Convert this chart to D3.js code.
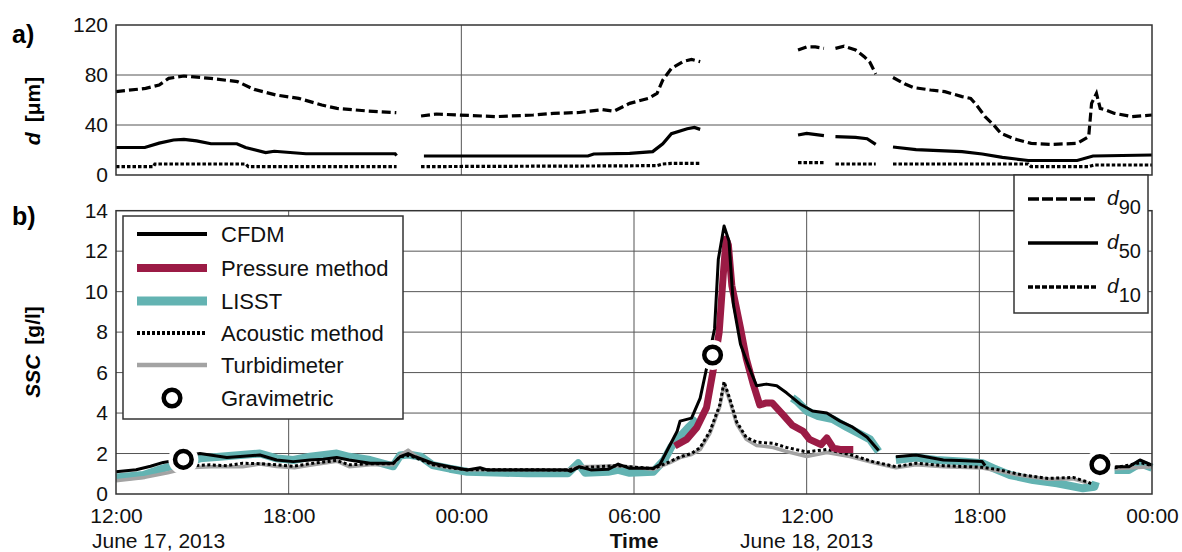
<!DOCTYPE html>
<html>
<head>
<meta charset="utf-8">
<script src="https://cdn.jsdelivr.net/npm/d3@7"></script>
<style>
  body { margin: 0; background: #fff; }
  svg { font-family: "Liberation Sans", Arial, sans-serif; }
</style>
</head>
<body>
<div id="chart"></div>
<script>
// time in hours after 12:00, June 17 2013; null = gap in record

// panel a) grain size [um]
const d90 = [[0,66.7],[1.03,69.3],[1.5,72],[1.83,77.3],[2.36,79.2],[3.29,77.3],[4.22,74.7],[4.8,68.5],[5.55,64],[6.35,61.3],[7.15,56],[7.68,53.3],[8.75,51.2],[9.74,49.9],null,
  [10.6,47.2],[11.13,48.8],[11.9,48],[13.2,46.7],[14.5,48],[15.2,49.3],[16.1,50],[16.9,52.3],[17.3,51],[17.85,57.3],[18.5,61.3],[18.8,65.3],[19.0,76],[19.3,85.3],[19.7,90.7],[20.0,92.5],[20.3,90.7],null,
  [23.7,100],[24.0,102.5],[24.3,102.5],[24.6,101.3],null,
  [25.0,101.3],[25.3,103],[25.7,100],[26.0,94.7],[26.2,90],[26.4,80.8],null,
  [27.0,78],[27.4,73],[27.7,70],[28.3,68],[28.8,66.7],[29.4,62.7],[29.7,61.3],[29.9,56],[30.2,46.7],[30.5,40],[30.75,33.3],[31.2,29],[31.8,25.3],[32.5,24.5],[33.4,25.3],[33.8,30.7],[33.9,57.3],[34.07,65.3],[34.2,53.3],[34.4,52],[34.7,49.3],[35.3,46.7],[36,48]];

const d50 = [[0,22],[1.0,22],[1.5,25.5],[2.0,28],[2.36,28.5],[2.8,27.3],[3.3,25],[4.2,25],[4.5,22],[5.2,18],[5.5,19],[6.6,17],[9.7,17],[9.75,15.5],null,
  [10.7,15.2],[16.4,15.2],[16.6,16.8],[17.85,17.3],[18.65,18.7],[19.0,25],[19.3,33],[19.85,37],[20.1,38],[20.3,36.5],null,
  [23.7,32],[24.0,33.3],[24.6,31.5],null,
  [25.0,30.7],[25.7,30.1],[26.1,29],[26.4,24.5],null,
  [27.0,22.4],[27.8,20.3],[29.4,18.7],[30.1,16.8],[30.8,14.1],[31.7,11.6],[33.4,11.6],[33.95,15.2],[36,16]];

const d10 = [[0,6.7],[1.3,6.7],[1.35,8.8],[4.5,8.8],[4.6,6.7],[9.75,6.7],null,
  [10.6,6.7],[16.5,7.2],[18.8,7.5],[19.0,8.8],[19.3,9.3],[20.3,9.3],null,
  [23.7,9.9],[24.6,9.9],null,
  [25.0,8.8],[26.4,8.8],null,
  [27.0,8.8],[31.7,8.8],[31.8,6.7],[33.8,6.7],[34.0,8],[36,8]];

// panel b) suspended sediment concentration [g/l]
const lisst = [[0,0.82],[0.95,0.94],[1.64,1.27],[2.3,1.5],[2.92,1.76],[3.6,1.84],[5.0,2.0],[5.58,1.76],[6.16,1.68],[6.74,1.84],[7.67,2.0],[8.1,1.84],[8.83,1.68],[9.63,1.37],[9.87,1.9],[10.15,1.95],[10.6,1.84],[11.0,1.43],[11.6,1.25],[12.2,1.1],[13.5,1.05],[14.3,1.02],[15.7,1.02],[16.06,1.52],[16.3,1.05],[17.1,1.1],[17.45,1.19],[17.85,1.05],[18.67,1.1],[19.05,1.68],[19.3,2.34],[19.6,2.83],[19.9,3.3],[20.2,3.7],null,
  [23.5,4.75],[23.65,4.6],[24.0,4.1],[24.4,3.85],[24.9,3.7],[25.4,3.3],[25.8,3.0],[26.2,2.7],[26.5,2.1],null,
  [27.1,1.68],[27.8,1.8],[28.5,1.68],[29.5,1.6],[30.1,1.52],[30.5,1.27],[31.06,0.94],[31.87,0.69],[32.7,0.53],[33.6,0.28],[34.0,0.36],[34.05,0.6],null,
  [34.7,1.19],[35.2,1.19],[35.58,1.52],[36,1.3]];

const turbidimeter = [[0,0.66],[1.0,0.82],[1.8,1.05],[2.5,1.3],[3.3,1.35],[4.4,1.35],[5.0,1.48],[5.58,1.36],[6.2,1.3],[6.74,1.42],[7.67,1.62],[8.1,1.35],[8.83,1.45],[9.63,1.45],[9.87,1.9],[10.15,2.17],[10.4,1.9],[11.0,1.45],[11.6,1.3],[12.2,1.2],[15.7,1.2],[16.1,1.35],[17.45,1.4],[18.67,1.22],[19.25,1.55],[19.6,1.8],[20.0,1.95],[20.3,2.2],[20.64,3.0],[20.98,4.3],[21.13,5.4],[21.33,4.6],[21.57,3.45],[21.9,2.7],[22.26,2.4],[22.84,2.3],[23.3,2.1],[24.0,1.85],[24.7,2.05],[25.5,1.85],[26.3,1.55],[27.1,1.3],[27.8,1.45],[28.75,1.35],[30.1,1.28],[30.7,1.12],[31.5,0.9],[32.4,0.73],[33.26,0.75],[33.75,0.55],null,
  [34.7,1.25],[36,1.35]];

const acoustic = [[2.6,1.4],[3.27,1.44],[3.85,1.4],[4.4,1.52],[5.0,1.5],[5.58,1.44],[6.16,1.37],[6.74,1.5],[7.67,1.66],[8.1,1.44],[8.83,1.5],[9.63,1.5],[9.87,1.84],[10.15,1.9],[10.4,1.8],[11.0,1.45],[11.6,1.3],[12.2,1.2],[15.7,1.19],[16.1,1.3],[17.45,1.4],[18.67,1.25],[19.25,1.6],[19.6,1.84],[20.0,2.0],[20.3,2.3],[20.64,3.1],[20.98,4.4],[21.13,5.55],[21.33,4.7],[21.57,3.56],[21.9,2.8],[22.26,2.57],[22.84,2.5],[23.3,2.3],[24.0,2.08],[24.7,2.2],[25.5,1.95],[26.3,1.6],[27.1,1.35],[27.8,1.52],[28.75,1.4],[30.1,1.32],[30.7,1.19],[31.5,0.94],[32.4,0.77],[33.26,0.82],[33.75,0.6],[33.9,0.5],null,
  [34.7,1.3],[35.2,1.43],[35.6,1.55],[36,1.4]];

const pressure = [[19.42,2.37],[19.83,2.7],[20.18,3.28],[20.52,4.27],[20.75,6.1],[20.96,8.0],[21.1,10.8],[21.2,12.6],[21.28,12.3],[21.4,10.3],[21.7,8.2],[21.9,6.7],[22.15,5.4],[22.37,4.4],[22.6,4.5],[22.8,4.5],[23.19,3.9],[23.5,3.4],[23.88,3.1],[24.1,2.7],[24.5,2.44],[24.7,2.77],[24.93,2.27],[25.16,2.2],[25.62,2.2]];

const cfdm = [[0,1.1],[0.7,1.2],[1.2,1.37],[1.64,1.56],[2.0,1.65],[2.7,1.95],[2.92,2.0],[3.27,1.93],[3.85,1.8],[4.43,1.87],[5.0,1.93],[5.58,1.68],[6.16,1.6],[6.74,1.68],[7.2,1.72],[7.67,1.8],[8.1,1.68],[8.83,1.52],[9.63,1.52],[9.87,1.84],[10.15,2.0],[10.4,1.84],[11.0,1.52],[11.6,1.35],[12.2,1.19],[12.65,1.3],[12.9,1.19],[14.0,1.19],[15.66,1.19],[15.8,1.12],[16.1,1.35],[16.5,1.19],[17.1,1.22],[17.45,1.48],[17.85,1.27],[18.67,1.27],[18.9,1.46],[19.08,1.95],[19.5,3.1],[19.6,3.6],[20.0,3.75],[20.3,4.74],[20.52,6.2],[20.8,8.17],[20.93,11.6],[21.13,13.24],[21.3,12.5],[21.45,9.4],[21.7,7.4],[22.0,6.25],[22.26,5.35],[22.6,5.43],[22.96,5.35],[23.3,5.0],[23.77,4.45],[24.2,4.1],[24.7,4.0],[25.16,3.6],[25.6,3.3],[26.1,2.8],[26.5,2.15],null,
  [27.1,1.84],[27.8,1.93],[28.75,1.68],[29.3,1.65],[30.1,1.6],[30.2,1.4],null,
  [34.6,1.3],[34.77,1.35],[35.2,1.35],[35.58,1.68],[36,1.43]];

const gravimetric = [[2.34,1.71],[20.73,6.87],[34.19,1.45]];

const topTicks = [0, 40, 80, 120];
const bottomTicks = [0, 2, 4, 6, 8, 10, 12, 14];

const start = new Date(2013, 5, 17, 12);
const end = new Date(2013, 5, 19, 0);
const at = h => new Date(+start + h * 36e5);

const W = 1182, H = 552;
const svg = d3.select("#chart").append("svg")
    .attr("width", W)
    .attr("height", H);

var x = d3.scaleTime().domain([start, end]).range([116, 1152]);
var yTop = d3.scaleLinear().domain([0, 120]).range([175, 25]);
var yBot = d3.scaleLinear().domain([0, 14]).range([494, 210.7]);

const gridColor = "#555";

// ---- panel a) ----
var ga = svg.append("g");
ga.selectAll(".hgrid").data([40, 80]).enter().append("line")
    .attr("x1", 116).attr("x2", 1152)
    .attr("y1", d => yTop(d)).attr("y2", d => yTop(d))
    .style("stroke", gridColor).style("stroke-width", 1);
ga.append("line")
    .attr("x1", x(at(12))).attr("x2", x(at(12)))
    .attr("y1", 25).attr("y2", 175)
    .style("stroke", gridColor).style("stroke-width", 1);

function lineFor(yScale) {
    return d3.line()
        .defined(d => d != null)
        .x(d => x(at(d[0])))
        .y(d => yScale(d[1]));
}

var lineTop = lineFor(yTop);
ga.append("path").datum(d90).attr("d", lineTop)
    .style("fill", "none").style("stroke", "#000").style("stroke-width", 3.2)
    .style("stroke-dasharray", "9,4");
ga.append("path").datum(d50).attr("d", lineTop)
    .style("fill", "none").style("stroke", "#000").style("stroke-width", 3.2);
ga.append("path").datum(d10).attr("d", lineTop)
    .style("fill", "none").style("stroke", "#000").style("stroke-width", 3.2)
    .style("stroke-dasharray", "3.5,2");

ga.append("rect").attr("x", 116).attr("y", 25).attr("width", 1036).attr("height", 150)
    .style("fill", "none").style("stroke", "#333").style("stroke-width", 1.5);

ga.append("g")
    .attr("transform", "translate(116,0)")
    .call(d3.axisLeft(yTop).tickValues(topTicks).tickSize(0).tickPadding(8))
    .call(g => g.select(".domain").remove())
    .selectAll("text").style("font-size", "21px").style("fill", "#111")
    .style("font-family", "Liberation Sans, Arial, sans-serif");

// ---- panel b) ----
var gb = svg.append("g");
gb.selectAll(".hgrid").data(bottomTicks.slice(1, -1)).enter().append("line")
    .attr("x1", 116).attr("x2", 1152)
    .attr("y1", d => yBot(d)).attr("y2", d => yBot(d))
    .style("stroke", gridColor).style("stroke-width", 1);
var sixHours = x.ticks(d3.timeHour.every(6));
gb.selectAll(".vgrid").data(sixHours.slice(1, -1)).enter().append("line")
    .attr("x1", d => x(d)).attr("x2", d => x(d))
    .attr("y1", 210.7).attr("y2", 494)
    .style("stroke", gridColor).style("stroke-width", 1);

var lineBot = lineFor(yBot);
const series = [
    {data: lisst, color: "#63b3b2", width: 8, dash: null},
    {data: turbidimeter, color: "#a3a3a3", width: 3.5, dash: null},
    {data: acoustic, color: "#000", width: 3, dash: "3,2.5"},
    {data: pressure, color: "#9b1b45", width: 7, dash: null},
    {data: cfdm, color: "#000", width: 3, dash: null}
];
series.forEach(function (s) {
    gb.append("path").datum(s.data).attr("d", lineBot)
        .style("fill", "none")
        .style("stroke", s.color)
        .style("stroke-width", s.width)
        .style("stroke-linejoin", "round")
        .style("stroke-dasharray", s.dash);
});

var grav = gb.selectAll(".grav").data(gravimetric).enter().append("g")
    .attr("transform", d => "translate(" + x(at(d[0])) + "," + yBot(d[1]) + ")");
grav.append("circle").attr("r", 15).style("fill", "#fff");
grav.append("circle").attr("r", 8.3).style("fill", "#fff")
    .style("stroke", "#000").style("stroke-width", 4.5);

gb.append("rect").attr("x", 116).attr("y", 210.7).attr("width", 1036).attr("height", 283.3)
    .style("fill", "none").style("stroke", "#333").style("stroke-width", 1.5);

gb.append("g")
    .attr("transform", "translate(116,0)")
    .call(d3.axisLeft(yBot).tickValues(bottomTicks).tickSize(0).tickPadding(8))
    .call(g => g.select(".domain").remove())
    .selectAll("text").style("font-size", "21px").style("fill", "#111")
    .style("font-family", "Liberation Sans, Arial, sans-serif");

gb.append("g")
    .attr("transform", "translate(0,494)")
    .call(d3.axisBottom(x).ticks(d3.timeHour.every(6)).tickFormat(d3.timeFormat("%H:%M")).tickSize(0).tickPadding(14))
    .call(g => g.select(".domain").remove())
    .selectAll("text").style("font-size", "21px").style("fill", "#111")
    .style("font-family", "Liberation Sans, Arial, sans-serif");

// date labels under the axis
svg.append("text").attr("x", 92).attr("y", 548).text("June 17, 2013")
    .style("font-size", "21px").style("fill", "#111");
svg.append("text").attr("x", x(at(18))).attr("y", 548).attr("text-anchor", "middle")
    .text("Time").style("font-size", "21px").style("font-weight", "bold").style("fill", "#111");
svg.append("text").attr("x", x(at(24))).attr("y", 548).attr("text-anchor", "middle")
    .text("June 18, 2013").style("font-size", "21px").style("fill", "#111");

// panel letters and axis titles
svg.append("text").attr("x", 12).attr("y", 43).text("a)")
    .style("font-size", "25px").style("font-weight", "bold");
svg.append("text").attr("x", 12).attr("y", 225).text("b)")
    .style("font-size", "25px").style("font-weight", "bold");

var ta = svg.append("text")
    .attr("transform", "translate(40,111) rotate(-90)")
    .attr("text-anchor", "middle")
    .style("font-size", "21px").style("font-weight", "bold");
ta.append("tspan").text("d").style("font-style", "italic");
ta.append("tspan").attr("dx", 10).text("[\u03bcm]");

var tb = svg.append("text")
    .attr("transform", "translate(40,352) rotate(-90)")
    .attr("text-anchor", "middle")
    .style("font-size", "21px").style("font-weight", "bold");
tb.append("tspan").text("SSC").style("font-style", "italic");
tb.append("tspan").attr("dx", 10).text("[g/l]");

// ---- legend for SSC ----
const legendItems = [
    {label: "CFDM", color: "#000", width: 4, dash: null},
    {label: "Pressure method", color: "#9b1b45", width: 8, dash: null},
    {label: "LISST", color: "#63b3b2", width: 9, dash: null},
    {label: "Acoustic method", color: "#000", width: 4, dash: "3,2"},
    {label: "Turbidimeter", color: "#a3a3a3", width: 4.5, dash: null},
    {label: "Gravimetric", marker: true}
];
const legendRows = [234, 268, 301, 333, 365, 398];

var lg = svg.append("g");
lg.append("rect").attr("x", 123).attr("y", 216).attr("width", 280).attr("height", 203)
    .style("fill", "#fff").style("stroke", "#333").style("stroke-width", 1.5);
var li = lg.selectAll(".item").data(legendItems).enter().append("g")
    .attr("transform", (d, i) => "translate(0," + legendRows[i] + ")");
li.filter(d => !d.marker).append("line")
    .attr("x1", 137).attr("x2", 207)
    .style("stroke", d => d.color)
    .style("stroke-width", d => d.width)
    .style("stroke-dasharray", d => d.dash);
li.filter(d => d.marker).append("circle")
    .attr("cx", 172).attr("r", 8.3)
    .style("fill", "#fff").style("stroke", "#000").style("stroke-width", 4.5);
li.append("text").attr("x", 221).attr("dy", "0.36em").text(d => d.label)
    .style("font-size", "22px").style("fill", "#111");

// ---- legend for grain size ----
const sizeItems = [
    {sub: "90", dash: "11,3"},
    {sub: "50", dash: null},
    {sub: "10", dash: "5,2"}
];
const sizeRows = [199, 243, 287];

var lg2 = svg.append("g");
lg2.append("rect").attr("x", 1014).attr("y", 175).attr("width", 134).attr("height", 138)
    .style("fill", "#fff").style("stroke", "#333").style("stroke-width", 1.5);
var si = lg2.selectAll(".item").data(sizeItems).enter().append("g")
    .attr("transform", (d, i) => "translate(0," + sizeRows[i] + ")");
si.append("line").attr("x1", 1028).attr("x2", 1098)
    .style("stroke", "#000").style("stroke-width", 3.5)
    .style("stroke-dasharray", d => d.dash);
var st = si.append("text").attr("x", 1107).attr("y", 6)
    .style("font-size", "21px").style("fill", "#111");
st.append("tspan").text("d").style("font-style", "italic");
st.append("tspan").attr("dy", 9).text(d => d.sub).style("font-size", "20px");
</script>
</body>
</html>
